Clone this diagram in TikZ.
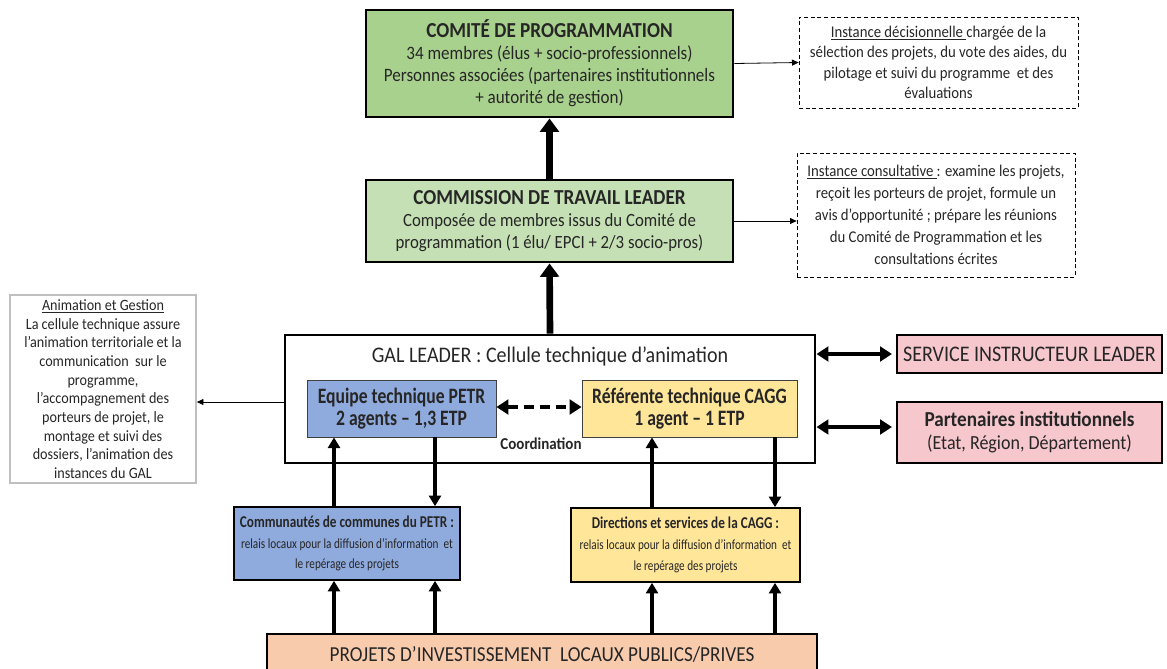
\documentclass[tikz,border=0pt]{standalone}
\usepackage{fontspec}
\setmainfont[FakeStretch=0.9]{Carlito}
\newfontfamily\narrowfont[FakeStretch=0.8]{Carlito}
\usetikzlibrary{arrows.meta}

\definecolor{vertfonce}{HTML}{A9D18E}
\definecolor{vertclair}{HTML}{C5E0B4}
\definecolor{bleupetr}{HTML}{8FAADC}
\definecolor{jaunecagg}{HTML}{FFE699}
\definecolor{roseinst}{HTML}{F6C7CC}
\definecolor{pecheproj}{HTML}{F8CBAD}
\definecolor{texte}{HTML}{262626}

\begin{document}
\begin{tikzpicture}[x=0.75pt,y=-0.75pt,
    sz/.style 2 args={minimum width=#1*0.75pt,minimum height=#2*0.75pt}]
\useasboundingbox (0,0) rectangle (1167,668);

\begin{scope}[every node/.style={draw,align=center,inner sep=1pt,text=texte}]
    % instances
    \node (COMITE) [sz={367}{107},fill=vertfonce,line width=2.2pt,
        font=\fontsize{14.2}{16.5}\selectfont] at (549.5,63.5)
        {\textbf{\fontsize{16}{16.5}\selectfont COMITÉ DE PROGRAMMATION}\\34 membres (élus + socio-professionnels)\\
         Personnes associées (partenaires institutionnels\\+ autorité de gestion)};
    \node (COMMISSION) [sz={367}{82},fill=vertclair,line width=2.2pt,
        font=\fontsize{14}{16.5}\selectfont] at (549.5,221)
        {\textbf{\fontsize{16}{16.5}\selectfont COMMISSION DE TRAVAIL LEADER}\\Composée de membres issus du Comité de\\
         programmation (1 élu/ EPCI + 2/3 socio-pros)};
    \node (DECISION) [sz={279}{91},densely dashed,line width=0.5pt,
        font=\fontsize{12.3}{15.3}\selectfont] at (938.5,62.5)
        {\underline{Instance décisionnelle }chargée de la\\sélection des projets, du vote des aides, du\\
         pilotage et suivi du programme\ \ et des\\évaluations};
    \node (CONSULT) [sz={278}{124},densely dashed,line width=0.5pt,
        font=\fontsize{12.3}{16.5}\selectfont] at (936,215)
        {\underline{Instance consultative }: examine les projets,\\reçoit les porteurs de projet, formule un\\
         avis d’opportunité ; prépare les réunions\\du Comité de Programmation et les\\consultations écrites};
    % cellule technique
    \node (GAL) [sz={530}{128},line width=2.2pt] at (550,399) {};
    \node (TITREGAL) [draw=none,font=\fontsize{16.7}{18}\selectfont] at (550,356)
        {GAL LEADER : Cellule technique d’animation};
    \node (ANIM) [sz={186}{188},draw=black!25,line width=1.2pt,
        font=\fontsize{11.8}{14}\selectfont] at (103,389)
        {\underline{Animation et Gestion}\\La cellule technique assure\\l’animation territoriale et la\\
         communication\ \ sur le\\programme,\\l’accompagnement des\\porteurs de projet, le\\
         montage et suivi des\\dossiers, l’animation des\\instances du GAL};
    \node (PETR) [sz={189}{57},fill=bleupetr,draw=black!75,line width=0.6pt,
        font=\narrowfont\bfseries\fontsize{16.5}{17}\selectfont] at (401.5,408.5)
        {Equipe technique PETR\\2 agents – 1,3 ETP};
    \node (CAGG) [sz={215}{57},fill=jaunecagg,draw=black!75,line width=0.6pt,
        font=\narrowfont\bfseries\fontsize{16.5}{17}\selectfont] at (689.5,408.5)
        {Référente technique CAGG\\1 agent – 1 ETP};
    \node (COORD) [draw=none,font=\bfseries\fontsize{12.5}{13}\selectfont] at (541,444) {Coordination};
    % partenaires
    \node (SERVICE) [sz={265}{38},fill=roseinst,line width=1.5pt,
        font=\fontsize{16.7}{17}\selectfont] at (1029.5,354)
        {SERVICE INSTRUCTEUR LEADER};
    \node (PARTEN) [sz={265}{61},fill=roseinst,line width=1.5pt,
        font=\fontsize{15}{17}\selectfont] at (1029.5,432.5)
        {\textbf{\fontsize{16}{17}\selectfont Partenaires institutionnels}\\(Etat, Région, Département)};
    % relais locaux
    \node (COMCOM) [sz={226}{73},fill=bleupetr,line width=1.2pt,
        font=\narrowfont\fontsize{10.5}{15.5}\selectfont] at (347,543.5)
        {\textbf{\fontsize{12.4}{15.5}\selectfont Communautés de communes du PETR :}\\
         relais locaux pour\ la diffusion d’information\ \ et\\le repérage des projets};
    \node (DIRECT) [sz={229}{74},fill=jaunecagg,line width=1.2pt,
        font=\narrowfont\fontsize{10.5}{15.5}\selectfont] at (685.5,545)
        {\textbf{\fontsize{12.4}{15.5}\selectfont Directions et services de la CAGG :}\\
         relais locaux pour\ la diffusion d’information\ \ et\\le repérage des projets};
    \node (PROJETS) [sz={550}{40},fill=pecheproj,line width=1.5pt,anchor=north,
        font=\fontsize{16}{17}\selectfont] at (542,633)
        {PROJETS D’INVESTISSEMENT\ \ LOCAUX PUBLICS/PRIVES};
\end{scope}

% remontees vers les instances
\begin{scope}[line width=5pt,-{Triangle[width=14pt,length=10pt]}]
    \path (COMMISSION.north) edge (COMITE.south);
    \path (GAL.north) edge (COMMISSION.south);
\end{scope}

% renvois vers les encadres
\begin{scope}[line width=0.6pt,-{Triangle[width=4.5pt,length=5pt]}]
    \path (COMITE.east) edge (DECISION.west);
    \path (COMMISSION.east) edge (COMMISSION.east -| CONSULT.west);
    \path (GAL.west |- 0,402) edge (ANIM.east |- 0,402);
\end{scope}

% echanges
\begin{scope}[line width=3pt,{Triangle[width=11pt,length=9pt]}-{Triangle[width=11pt,length=9pt]}]
    \path (GAL.east |- SERVICE) edge ([xshift=-3pt]SERVICE.west);
    \path (GAL.east |- 0,427) edge ([xshift=-3pt]SERVICE.west |- 0,427);
    \path (PETR.east |- 0,407) edge[dashed,dash pattern=on 8pt off 4pt] (CAGG.west |- 0,407);
\end{scope}

% circulation de l'information
\begin{scope}[line width=3pt,-{Triangle[width=9pt,length=8pt]}]
    \path (COMCOM.north -| 334,0) edge (PETR.south -| 334,0);
    \path (PETR.south -| 435,0) edge (COMCOM.north -| 435,0);
    \path (DIRECT.north -| 652,0) edge (CAGG.south -| 652,0);
    \path (CAGG.south -| 775,0) edge (DIRECT.north -| 775,0);
    \path (PROJETS.north -| 334,0) edge (COMCOM.south -| 334,0);
    \path (PROJETS.north -| 435,0) edge (COMCOM.south -| 435,0);
    \path (PROJETS.north -| 652,0) edge (DIRECT.south -| 652,0);
    \path (PROJETS.north -| 775,0) edge (DIRECT.south -| 775,0);
\end{scope}
\end{tikzpicture}
\end{document}
